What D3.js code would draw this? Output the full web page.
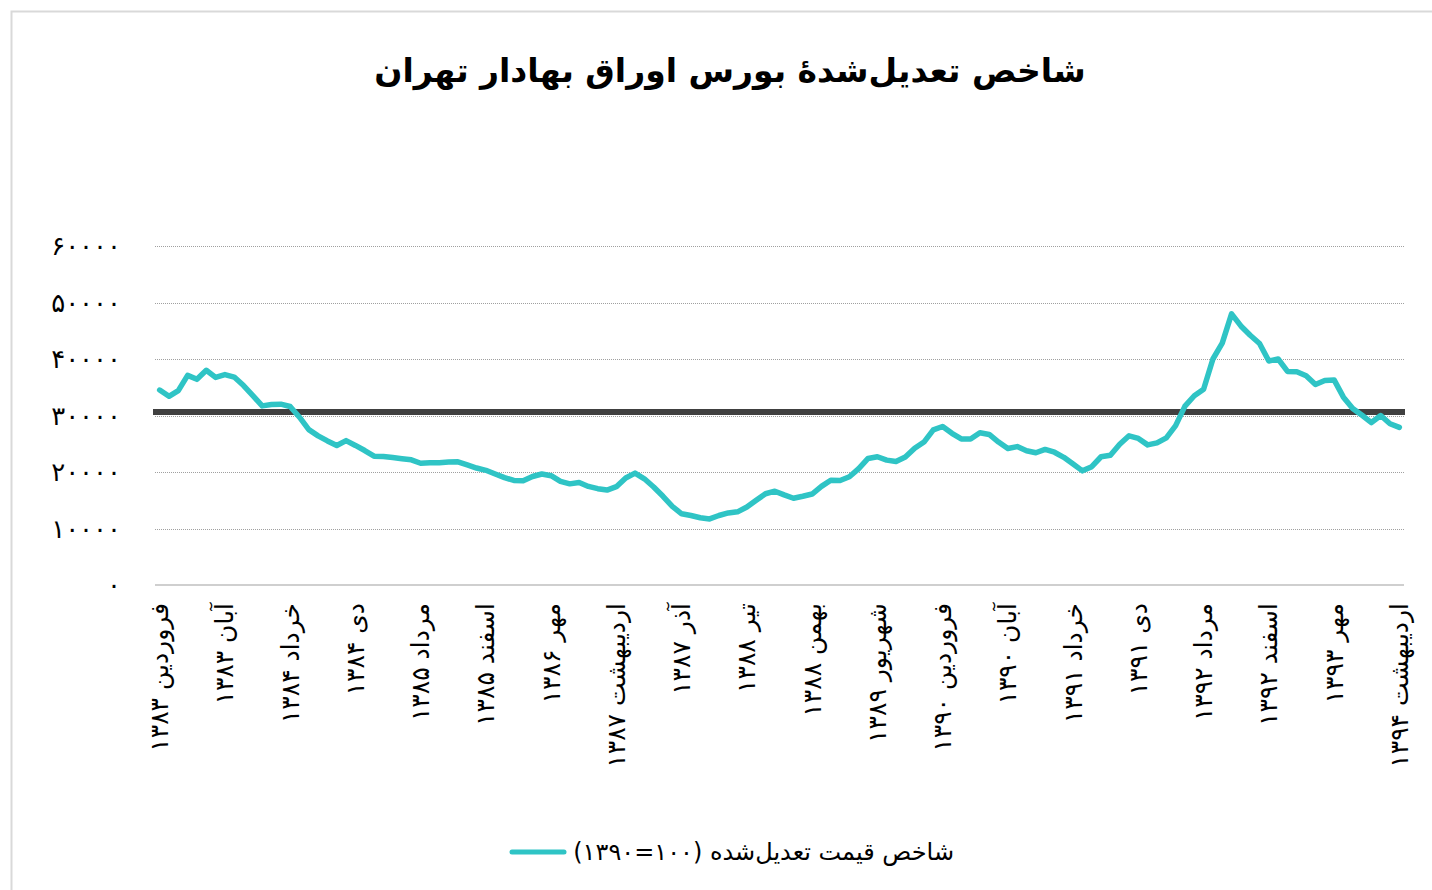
<!DOCTYPE html>
<html>
<head>
<meta charset="utf-8">
<script src="https://cdn.jsdelivr.net/npm/d3@7"></script>
<style>
body { margin: 0; background: white; }
text { font-family: "DejaVu Sans", sans-serif; }
</style>
</head>
<body>
<script>
const largeur = 1432;
const hauteur = 890;

// valeurs mensuelles, de فروردین ۱۳۸۳ à اردیبهشت ۱۳۹۴
const valeurs = [
    34500, 33400, 34400, 37100, 36400, 38000, 36750, 37250, 36800, 35300,
    33500, 31700, 31950, 32000, 31600, 29700, 27500, 26400, 25500, 24700,
    25550, 24700, 23800, 22800, 22750, 22550, 22350, 22150, 21550, 21650,
    21650, 21750, 21800, 21250, 20700, 20300, 19650, 19000, 18500, 18450,
    19200, 19650, 19350, 18350, 17900, 18150, 17450, 17050, 16800, 17400,
    18950, 19800, 18800, 17350, 15700, 13900, 12600, 12300, 11900, 11700,
    12300, 12750, 12950, 13800, 15000, 16150, 16600, 15950, 15350, 15700,
    16100, 17450, 18550, 18500, 19150, 20600, 22400, 22700, 22100, 21850,
    22650, 24200, 25300, 27450, 28050, 26850, 25850, 25850, 26950, 26650,
    25300, 24150, 24500, 23750, 23400, 24000, 23500, 22600, 21400, 20200,
    20950, 22700, 22950, 24900, 26400, 25950, 24800, 25150, 26050, 28200,
    31650, 33500, 34650, 40000, 42800, 48000, 45850, 44200, 42750, 39650,
    40000, 37800, 37750, 37050, 35500, 36200, 36300, 33250, 31250, 30050,
    28750, 30000, 28550, 27900
];

const niveauMoyen = 30600;

const etiquettesX = [
    "فروردین ۱۳۸۳", "آبان ۱۳۸۳", "خرداد ۱۳۸۴", "دی ۱۳۸۴", "مرداد ۱۳۸۵",
    "اسفند ۱۳۸۵", "مهر ۱۳۸۶", "اردیبهشت ۱۳۸۷", "آذر ۱۳۸۷", "تیر ۱۳۸۸",
    "بهمن ۱۳۸۸", "شهریور ۱۳۸۹", "فروردین ۱۳۹۰", "آبان ۱۳۹۰", "خرداد ۱۳۹۱",
    "دی ۱۳۹۱", "مرداد ۱۳۹۲", "اسفند ۱۳۹۲", "مهر ۱۳۹۳", "اردیبهشت ۱۳۹۴"
];

const ticksY = [0, 10000, 20000, 30000, 40000, 50000, 60000];
const etiquettesY = ["۰", "۱۰۰۰۰", "۲۰۰۰۰", "۳۰۰۰۰", "۴۰۰۰۰", "۵۰۰۰۰", "۶۰۰۰۰"];

const titre = "شاخص تعدیل‌شدهٔ بورس اوراق بهادار تهران";
const legende = "شاخص قیمت تعدیل‌شده (۱۰۰=۱۳۹۰)";

const couleurSerie = "#2fc4c5";

const svg = d3
.select("body")
.append("svg")
.attr("width", largeur)
.attr("height", hauteur);

svg.append("rect")
.attr("x", 11.5)
.attr("y", 11.5)
.attr("width", 1500)
.attr("height", 1000)
.attr("fill", "white")
.attr("stroke", "#d9d9d9")
.attr("stroke-width", 2);

const gauche = 155;
const droite = 1404;
const haut = 246;
const bas = 585;

const x = d3.scaleBand()
.domain(d3.range(valeurs.length))
.range([gauche, droite])
.padding(0);

const y = d3.scaleLinear()
.domain([0, 60000])
.range([bas, haut]);

function centre(i)
{
    return x(i) + x.bandwidth() / 2;
}

// titre
svg.append("text")
.attr("x", 730)
.attr("y", 82)
.attr("text-anchor", "middle")
.attr("direction", "rtl")
.attr("font-size", 33)
.attr("font-weight", "bold")
.attr("fill", "#000")
.text(titre);

// grille
svg.append("g")
.selectAll("line")
.data(ticksY.slice(1))
.enter()
.append("line")
.attr("x1", gauche)
.attr("x2", droite)
.attr("y1", function(d) { return Math.round(y(d)) + 0.5; })
.attr("y2", function(d) { return Math.round(y(d)) + 0.5; })
.attr("stroke", "#a0a0a0")
.attr("stroke-width", 1)
.attr("stroke-dasharray", "1,1");

// axe horizontal
svg.append("line")
.attr("x1", gauche)
.attr("x2", droite)
.attr("y1", y(0))
.attr("y2", y(0))
.attr("stroke", "#bfbfbf")
.attr("stroke-width", 1.5);

// etiquettes Y
svg.append("g")
.selectAll("text")
.data(ticksY)
.enter()
.append("text")
.attr("x", 121)
.attr("y", function(d) { return y(d); })
.attr("dy", "0.35em")
.attr("text-anchor", "end")
.attr("font-size", 26)
.attr("fill", "#000")
.text(function(d, i) { return etiquettesY[i]; });

// etiquettes X, une tous les 7 mois
svg.append("g")
.selectAll("text")
.data(etiquettesX)
.enter()
.append("text")
.attr("transform", function(d, i)
{
    return "translate(" + centre(i * 7) + "," + 603 + ") rotate(-90)";
})
.attr("text-anchor", "end")
.attr("dominant-baseline", "central")
.attr("font-size", 25)
.attr("fill", "#000")
.text(function(d) { return d; });

// ligne moyenne
svg.append("line")
.attr("x1", gauche - 2)
.attr("x2", droite + 1)
.attr("y1", y(niveauMoyen))
.attr("y2", y(niveauMoyen))
.attr("stroke", "#404040")
.attr("stroke-width", 6);

// serie
const ligne = d3.line()
.x(function(d, i) { return centre(i); })
.y(function(d) { return y(d); });

svg.append("path")
.datum(valeurs)
.attr("d", ligne)
.attr("fill", "none")
.attr("stroke", couleurSerie)
.attr("stroke-width", 5.5)
.attr("stroke-linejoin", "round")
.attr("stroke-linecap", "round");

// legende
svg.append("line")
.attr("x1", 512)
.attr("x2", 564)
.attr("y1", 852)
.attr("y2", 852)
.attr("stroke", couleurSerie)
.attr("stroke-width", 5)
.attr("stroke-linecap", "round");

svg.append("text")
.attr("x", 954)
.attr("y", 852)
.attr("dy", "0.35em")
.attr("direction", "rtl")
.attr("text-anchor", "start")
.attr("font-size", 24)
.attr("fill", "#000")
.text(legende);
</script>
</body>
</html>
